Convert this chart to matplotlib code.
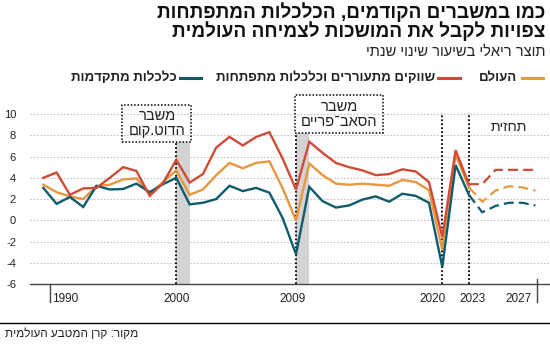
import numpy as np
import matplotlib
matplotlib.use('Agg')
import matplotlib.pyplot as plt
from matplotlib.patches import Rectangle
from matplotlib.lines import Line2D

plt.rcParams['font.family'] = ['Liberation Sans Narrow', 'Liberation Sans', 'DejaVu Sans']

years = list(range(1990, 2023))
world = [3.35, 2.65, 2.25, 2.0, 3.2, 3.35, 3.85, 3.95, 2.45, 3.6,
         4.7, 2.4, 2.9, 4.25, 5.4, 4.9, 5.4, 5.55, 3.0, 0.0,
         5.35, 4.25, 3.45, 3.35, 3.45, 3.35, 3.25, 3.8, 3.6, 2.85,
         -2.8, 6.2, 3.1]
emerging = [4.0, 4.5, 2.4, 3.0, 3.05, 4.0, 5.0, 4.65, 2.3, 3.5,
            5.7, 3.55, 4.35, 6.85, 7.85, 7.05, 7.85, 8.3, 5.8, 2.9,
            7.4, 6.35, 5.4, 5.0, 4.7, 4.25, 4.35, 4.8, 4.6, 3.6,
            -1.6, 6.6, 3.4]
advanced = [3.05, 1.55, 2.2, 1.25, 3.25, 2.9, 2.95, 3.45, 2.65, 3.4,
            4.0, 1.5, 1.65, 2.0, 3.25, 2.75, 3.05, 2.6, 0.2, -3.2,
            3.15, 1.8, 1.2, 1.4, 1.95, 2.25, 1.75, 2.5, 2.3, 1.65,
            -4.4, 5.2, 2.4]

fc_years = [2022, 2023, 2024, 2025, 2026, 2027]
fc_world = [3.1, 1.75, 2.8, 3.2, 3.1, 2.8]
fc_emerging = [3.4, 3.4, 4.75, 4.75, 4.75, 4.75]
fc_advanced = [2.4, 0.75, 1.35, 1.65, 1.65, 1.4]

crises = [(2000, 2001), (2009, 2010)]
crisis_names = ['משבר\nהדוט.קום', 'משבר\nהסאב־פריים']
markers = [2020, 2022]

xlabels = ['1990', '2000', '2009', '2020', '2023', '2027']
ylabels = [10, 8, 6, 4, 2, 0, -2, -4, -6]

title = 'כמו במשברים הקודמים, הכלכלות המתפתחות\nצפויות לקבל את המושכות לצמיחה העולמית'
subtitle = 'תוצר ריאלי בשיעור שינוי שנתי'
names = ['העולם', 'שווקים מתעוררים וכלכלות מתפתחות', 'כלכלות מתקדמות']
source = 'מקור: קרן המטבע העולמית'
forecast = 'תחזית'

c_world = '#e8973f'
c_em = '#d04a36'
c_adv = '#0f5b6e'
txt = '#222222'


def rtl(s):
    # matplotlib has no bidi, flip each line by hand
    return '\n'.join(line[::-1] for line in s.split('\n'))


W, H = 550, 345
fig = plt.figure(figsize=(W / 100, H / 100), dpi=100)


def px(x, y):
    return x / W, 1 - y / H


ax = fig.add_axes([30 / W, 1 - 284 / H, 518.7 / W, 189 / H])
ax.set_xlim(1989.0, 2028.0)
ax.set_ylim(-6, 11.8)

for v in ylabels[:-1]:
    ax.axhline(v, color='#c4c4c4', lw=0.8, ls=(0, (1.5, 1.5)), zorder=1)

for s in ax.spines.values():
    s.set_visible(False)
ax.axhline(-6, color='#444444', lw=1.0, zorder=5, clip_on=False)

ax.set_yticks(ylabels)
ax.set_yticklabels([str(v) for v in ylabels], fontsize=8, color=txt)
ax.tick_params(axis='y', length=0, pad=10)
ax.set_xticks([])

# crisis boxes + grey bands
box_pos = [(1995.95, 2001.13, 7.35, 10.85), (2008.95, 2015.55, 8.2, 11.76)]
for (a, b), name, (x0, x1, y0, y1) in zip(crises, crisis_names, box_pos):
    ax.add_patch(Rectangle((a, -6), b - a, y0 + 6, color='#d3d3d4', lw=0, zorder=2))
    ax.plot([a, a], [-6, y0], color='black', lw=1.3, ls=(0, (1, 1.2)), zorder=3)
    ax.add_patch(Rectangle((x0, y0), x1 - x0, y1 - y0, fill=False, ec='black',
                           lw=1.1, ls=(0, (1, 1.2)), zorder=6, clip_on=False))
    ax.text((x0 + x1) / 2, (y0 + y1) / 2, rtl(name), ha='center', va='center',
            fontsize=10.5, color=txt, linespacing=1.1, zorder=7)

for m in markers:
    ax.plot([m, m], [-6, 10.1], color='black', lw=1.3, ls=(0, (1, 1.2)), zorder=3)

ax.text(2025.0, 8.75, rtl(forecast), ha='center', va='center', fontsize=10, color=txt)

# series
ax.plot(years, world, color=c_world, lw=1.7, zorder=4, solid_joinstyle='miter')
ax.plot(years, advanced, color=c_adv, lw=1.7, zorder=4, solid_joinstyle='miter')
ax.plot(years, emerging, color=c_em, lw=1.7, zorder=4, solid_joinstyle='miter')
dash = (0, (4.5, 2.3))
ax.plot(fc_years, fc_world, color=c_world, lw=1.6, ls=dash, zorder=4)
ax.plot(fc_years, fc_advanced, color=c_adv, lw=1.6, ls=dash, zorder=4)
ax.plot(fc_years, fc_emerging, color=c_em, lw=1.6, ls=dash, zorder=4)

# x labels, placed like the original
lab_x = [(52, 'left'), (177, 'center'), (293, 'center'), (433, 'center'),
         (472, 'center'), (519, 'center')]
for lab, (x, ha) in zip(xlabels, lab_x):
    fig.text(*px(x, 299), lab, ha=ha, va='center', fontsize=8.5, color=txt)
fig.add_artist(Line2D([50 / W, 50 / W], [1 - 284 / H, 1 - 302 / H], color='#444444', lw=1))
fig.add_artist(Line2D([537 / W, 537 / W], [1 - 279 / H, 1 - 302 / H], color='#444444', lw=1))

# titles
fig.text(*px(545, 22), rtl(title), ha='right', va='center', fontsize=13.7,
         fontweight='heavy', color='#111111', linespacing=0.95)
fig.text(*px(545, 52), rtl(subtitle), ha='right', va='center', fontsize=10.5, color=txt)

# legend
leg = [(c_world, 522, 543, 517), (c_em, 438, 460, 435), (c_adv, 180, 201, 177)]
for name, (c, l0, l1, tx) in zip(names, leg):
    fig.add_artist(Line2D([l0 / W, l1 / W], [1 - 78 / H] * 2, color=c, lw=2.2))
    fig.text(*px(tx, 78), rtl(name), ha='right', va='center', fontsize=9.5,
             fontweight='bold', color=txt)

# footer
fig.add_artist(Line2D([0, 1], [1 - 323 / H] * 2, color='black', lw=1))
fig.text(*px(5, 334), rtl(source), ha='left', va='center', fontsize=8.5, color=txt)

fig.savefig('out.png', dpi=100)
